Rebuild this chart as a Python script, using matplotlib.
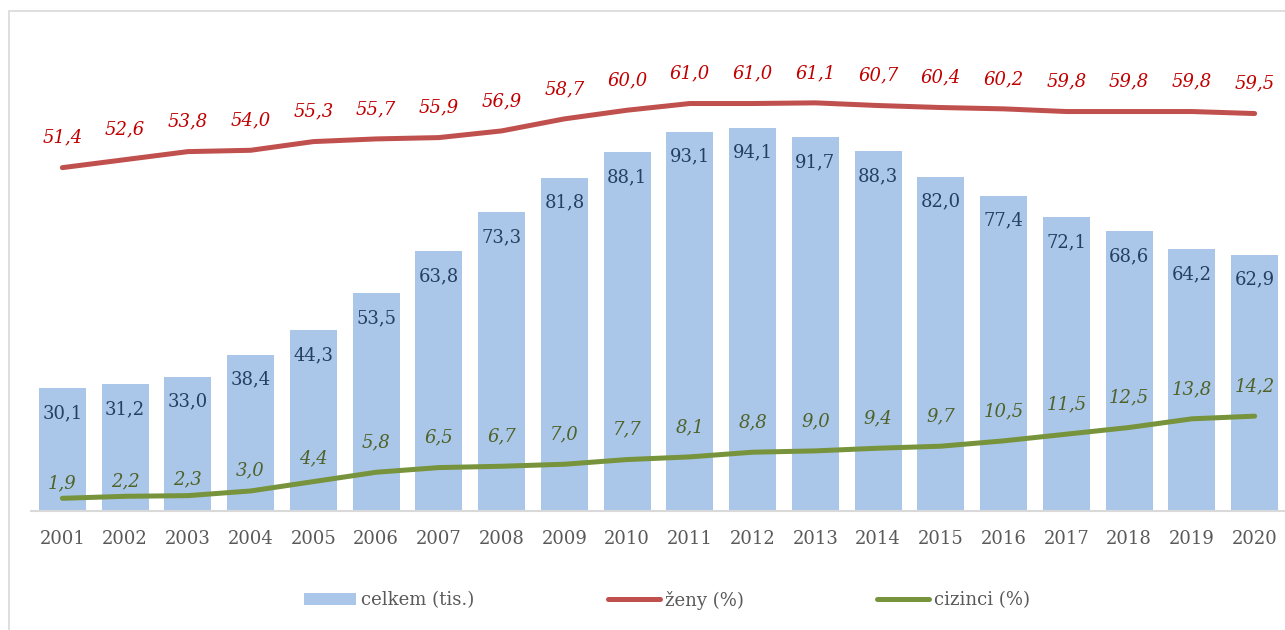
import matplotlib.pyplot as plt
from matplotlib.patches import Rectangle, Patch
from matplotlib.lines import Line2D

# data
years = [str(y) for y in range(2001, 2021)]
celkem = [30.1, 31.2, 33.0, 38.4, 44.3, 53.5, 63.8, 73.3, 81.8, 88.1,
          93.1, 94.1, 91.7, 88.3, 82.0, 77.4, 72.1, 68.6, 64.2, 62.9]
zeny = [51.4, 52.6, 53.8, 54.0, 55.3, 55.7, 55.9, 56.9, 58.7, 60.0,
        61.0, 61.0, 61.1, 60.7, 60.4, 60.2, 59.8, 59.8, 59.8, 59.5]
cizinci = [1.9, 2.2, 2.3, 3.0, 4.4, 5.8, 6.5, 6.7, 7.0, 7.7,
           8.1, 8.8, 9.0, 9.4, 9.7, 10.5, 11.5, 12.5, 13.8, 14.2]

# label offsets of the green series (points), the first ones sit lower
green_off = [11, 11, 12, 14.5, 17] + [21.5] * 15

BAR = "#AAC7EA"
RED = "#C0504D"
GREEN = "#77933C"
FONT = "DejaVu Serif"
FS = 13

plt.rcParams["font.family"] = FONT


def fmt(v):
    return f"{v:.1f}".replace(".", ",")


fig = plt.figure(figsize=(12.85, 6.3), dpi=100)
ax = fig.add_axes([31 / 1285, 119 / 630, 1255 / 1285, 489 / 630])
x = list(range(len(years)))

ax.bar(x, celkem, width=0.75, color=BAR, zorder=1)
ax.set_xlim(-0.5, len(years) - 0.5)
ax.set_ylim(0, 120)
for i, v in zip(x, celkem):
    ax.annotate(fmt(v), (i, v), xytext=(0, -18), textcoords="offset points",
                ha="center", va="center", color="#243F60", fontsize=FS)

ax.set_xticks(x)
ax.set_xticklabels(years, color="#595959", fontsize=FS)
ax.tick_params(axis="x", length=0, pad=14)
ax.set_yticks([])
for s in ["top", "left", "right"]:
    ax.spines[s].set_visible(False)
ax.spines["bottom"].set_color("#D9D9D9")
ax.spines["bottom"].set_linewidth(1.5)

ax2 = ax.twinx()
ax2.set_ylim(0, 489 / 6.68)
ax2.set_yticks([])
for s in ax2.spines.values():
    s.set_visible(False)
ax2.plot(x, zeny, color=RED, lw=3.6, solid_capstyle="round")
ax2.plot(x, cizinci, color=GREEN, lw=3.6, solid_capstyle="round")
for i, v in zip(x, zeny):
    ax2.annotate(fmt(v), (i, v), xytext=(0, 21.5), textcoords="offset points",
                 ha="center", va="center", color="#C00000", fontsize=FS,
                 style="italic")
for i, v, o in zip(x, cizinci, green_off):
    ax2.annotate(fmt(v), (i, v), xytext=(0, o), textcoords="offset points",
                 ha="center", va="center", color="#4F6228", fontsize=FS,
                 style="italic")

handles = [
    Patch(facecolor=BAR, edgecolor="none"),
    Line2D([], [], color=RED, lw=3.6, solid_capstyle="round"),
    Line2D([], [], color=GREEN, lw=3.6, solid_capstyle="round"),
]
leg = fig.legend(handles, ["celkem (tis.)", "ženy (%)", "cizinci (%)"],
                 loc="center", bbox_to_anchor=(667 / 1285, 30 / 630), ncol=3,
                 frameon=False, fontsize=FS, handlelength=2.9, handleheight=0.67,
                 handletextpad=0.25, columnspacing=7.4)
for t in leg.get_texts():
    t.set_color("#595959")

# outer chart border
fig.add_artist(Rectangle((9 / 1285, -0.1), 1.2, (630 - 11) / 630 + 0.1,
                         transform=fig.transFigure, fill=False,
                         edgecolor="#D9D9D9", lw=1.2))

fig.savefig("out.png", dpi=100)
